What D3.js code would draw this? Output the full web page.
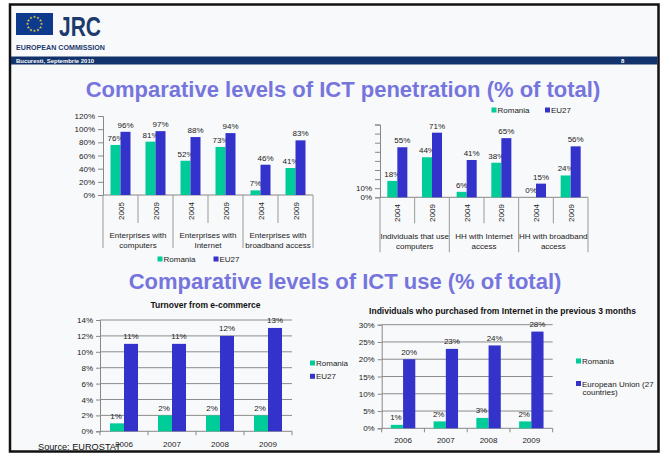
<!DOCTYPE html>
<html><head><meta charset="utf-8">
<script src="https://cdn.jsdelivr.net/npm/d3@7"></script>
<style>html,body{margin:0;padding:0;background:#fff;}svg{display:block;font-family:"Liberation Sans",Arial,sans-serif;}</style>
</head><body><div id="chart"></div>
<script>
// ---------- DATA ----------
const seriesNames = ["Romania", "EU27"];
const colors = ["#00CC99", "#3333CC"];

// Chart 1: enterprises
const c1Years = ["2005", "2009", "2004", "2009", "2004", "2009"];
const c1Groups = [["Enterprises with", "computers"], ["Enterprises with", "Internet"], ["Enterprises with", "broadband access"]];
const c1Romania = [76, 81, 52, 73, 7, 41];
const c1EU27 = [96, 97, 88, 94, 46, 83];
const c1Ticks = [0, 20, 40, 60, 80, 100, 120];

// Chart 2: individuals / households
const c2Years = ["2004", "2009", "2004", "2009", "2004", "2009"];
const c2Groups = [["Individuals that use", "computers"], ["HH with Internet", "access"], ["HH with broadband", "access"]];
const c2Romania = [18, 44, 6, 38, 0, 24];
const c2EU27 = [55, 71, 41, 65, 15, 56];
const c2Ticks = [0, 10, 20, 30, 40, 50, 60, 70, 80];
const c2TickLabels = ["0%", "10%"];

// Chart 3: turnover from e-commerce
const c3Years = ["2006", "2007", "2008", "2009"];
const c3Romania = [1, 2, 2, 2];
const c3EU27 = [11, 11, 12, 13];
const c3Ticks = [0, 2, 4, 6, 8, 10, 12, 14];

// Chart 4: individuals who purchased from Internet
const c4Years = ["2006", "2007", "2008", "2009"];
const c4Romania = [1, 2, 3, 2];
const c4EU27 = [20, 23, 24, 28];
const c4Ticks = [0, 5, 10, 15, 20, 25, 30];
const c4Legend = [["Romania"], ["European Union (27", "countries)"]];

// ---------- SVG ----------
const W = 666, H = 453;
const svg = d3.select("#chart").append("svg").attr("width", W).attr("height", H);
svg.append("rect").attr("width", W).attr("height", H).attr("fill", "#fff");
svg.append("rect").attr("x", 10).attr("y", 4.5).attr("width", 648.5).attr("height", 447)
  .attr("fill", "#f8f9fb").attr("stroke", "#111").attr("stroke-width", 2.5);

// header
svg.append("rect").attr("x", 16).attr("y", 13).attr("width", 37).attr("height", 22).attr("fill", "#0d3a8c");
const stars = d3.range(12).map(i => i * Math.PI / 6);
svg.selectAll("path.star").data(stars).join("path").attr("class", "star")
  .attr("d", d3.symbol(d3.symbolStar, 3))
  .attr("transform", a => `translate(${34.5 + 7 * Math.cos(a)},${24 + 7 * Math.sin(a)})`)
  .attr("fill", "#e8d44a");
svg.append("text").attr("x", 59).attr("y", 36).attr("font-size", 28).attr("font-weight", "bold")
  .attr("fill", "#1d3a6e").attr("textLength", 42).attr("lengthAdjust", "spacingAndGlyphs").text("JRC");
svg.append("text").attr("x", 16).attr("y", 50).attr("font-size", 7).attr("font-weight", "bold")
  .attr("fill", "#1d3a6e").attr("textLength", 89).attr("lengthAdjust", "spacingAndGlyphs").text("EUROPEAN COMMISSION");
svg.append("rect").attr("x", 11).attr("y", 56.5).attr("width", 646.5).attr("height", 8).attr("fill", "#12326b");
svg.append("text").attr("x", 16).attr("y", 63).attr("font-size", 6).attr("font-weight", "bold")
  .attr("fill", "#fff").attr("textLength", 78).attr("lengthAdjust", "spacingAndGlyphs").text("Bucuresti, Septembrie 2010");
svg.append("text").attr("x", 621).attr("y", 63).attr("font-size", 6).attr("font-weight", "bold").attr("fill", "#fff").text("8");

const titleColor = "#7575dd";
svg.append("text").attr("x", 343).attr("y", 97).attr("text-anchor", "middle").attr("font-size", 22)
  .attr("font-weight", "bold").attr("fill", titleColor).text("Comparative levels of ICT penetration (% of total)");
svg.append("text").attr("x", 345).attr("y", 289).attr("text-anchor", "middle").attr("font-size", 22)
  .attr("font-weight", "bold").attr("fill", titleColor).text("Comparative levels of ICT use (% of total)");

const txt = "#222";

function legendRow(items, x0, y, gap) {
  items.forEach((name, i) => {
    const x = x0 + i * gap;
    svg.append("rect").attr("x", x).attr("y", y - 5.5).attr("width", 5).attr("height", 5).attr("fill", colors[i]);
    svg.append("text").attr("x", x + 6).attr("y", y).attr("font-size", 8).attr("fill", txt).text(name);
  });
}

// ---------- penetration charts ----------
function penetrationChart(cfg) {
  const { years, groups, rom, eu, ticks, tickLabels, x0, x1, y0, yTop, yMax, pad, lbl } = cfg;
  const idx = years.map((d, i) => i);
  const x = d3.scaleBand().domain(idx).range([x0, x1]);
  const inner = d3.scaleBand().domain([0, 1]).range([0, x.bandwidth()]).paddingOuter(pad);
  const y = d3.scaleLinear().domain([0, yMax]).range([y0, yTop]);
  const g = svg.append("g");
  const yAxis = d3.axisLeft(y).tickValues(ticks).tickSize(5).tickPadding(3)
    .tickFormat(d => tickLabels ? (tickLabels.includes(d + "%") ? d + "%" : "") : d + "%");
  const ga = g.append("g").attr("transform", `translate(${x0},0)`).call(yAxis);
  ga.select(".domain").attr("stroke", "#888");
  ga.selectAll(".tick line").attr("stroke", "#888");
  ga.selectAll("text").attr("font-size", 8).attr("fill", txt).attr("font-family", "Liberation Sans, Arial, sans-serif");
  g.append("line").attr("x1", x0).attr("x2", x1).attr("y1", y0).attr("y2", y0).attr("stroke", "#888");
  d3.range(idx.length + 1).forEach(i => {
    const xx = x0 + i * x.step();
    const major = i % 2 === 0;
    g.append("line").attr("x1", xx).attr("x2", xx).attr("y1", y0).attr("y2", y0 + (major ? lbl.majorLen : lbl.minorLen))
      .attr("stroke", "#999");
  });
  const series = [rom, eu];
  series.forEach((vals, s) => {
    g.selectAll(null).data(vals).join("rect")
      .attr("x", (d, i) => x(i) + inner(s)).attr("width", inner.bandwidth())
      .attr("y", d => y(d)).attr("height", d => y0 - y(d)).attr("fill", colors[s]);
    g.selectAll(null).data(vals).join("text")
      .attr("x", (d, i) => x(i) + inner(s) + inner.bandwidth() / 2).attr("y", d => y(d) - 4)
      .attr("text-anchor", "middle").attr("font-size", 8).attr("fill", txt).text(d => d + "%");
  });
  g.selectAll(null).data(years).join("text")
    .attr("transform", (d, i) => `translate(${x(i) + x.bandwidth() / 2 + 3},${lbl.yearY}) rotate(-90)`)
    .attr("text-anchor", "middle").attr("font-size", 8).attr("fill", txt).text(d => d);
  groups.forEach((lines, gi) => {
    const cx = x0 + (gi * 2 + 1) * x.step();
    lines.forEach((t, li) => {
      g.append("text").attr("x", cx).attr("y", lbl.groupY + li * 9.5).attr("text-anchor", "middle")
        .attr("font-size", 8).attr("fill", txt).text(t);
    });
  });
}

penetrationChart({ years: c1Years, groups: c1Groups, rom: c1Romania, eu: c1EU27, ticks: c1Ticks, tickLabels: null,
  x0: 103, x1: 313, y0: 195, yTop: 116, yMax: 120, pad: 0.75,
  lbl: { yearY: 211, groupY: 238, majorLen: 53, minorLen: 28 } });
legendRow(seriesNames, 157.5, 262, 56);

penetrationChart({ years: c2Years, groups: c2Groups, rom: c2Romania, eu: c2EU27, ticks: c2Ticks, tickLabels: c2TickLabels,
  x0: 380, x1: 588, y0: 197.3, yTop: 124.5, yMax: 80, pad: 0.73,
  lbl: { yearY: 213, groupY: 239, majorLen: 55, minorLen: 26 } });
legendRow(seriesNames, 491.5, 113, 53.5);

// ---------- use charts ----------
function useChart(cfg) {
  const { years, rom, eu, ticks, x0, x1, y0, yTop, yMax, pad, title, titleX, titleY, legend, legX, legY, legGap, xLabY } = cfg;
  const x = d3.scaleBand().domain(years).range([x0, x1]);
  const inner = d3.scaleBand().domain([0, 1]).range([0, x.bandwidth()]).paddingOuter(pad);
  const y = d3.scaleLinear().domain([0, yMax]).range([y0, yTop]);
  const g = svg.append("g");
  const ga = g.append("g").attr("transform", `translate(${x0},0)`)
    .call(d3.axisLeft(y).tickValues(ticks).tickSize(4).tickPadding(3).tickFormat(d => d + "%"));
  ga.select(".domain").attr("stroke", "#888");
  ga.selectAll(".tick line").attr("stroke", "#888");
  ga.selectAll("text").attr("font-size", 8).attr("fill", txt).attr("font-family", "Liberation Sans, Arial, sans-serif");
  g.selectAll(null).data(ticks.slice(1)).join("line")
    .attr("x1", x0).attr("x2", x1).attr("y1", d => y(d)).attr("y2", d => y(d)).attr("stroke", "#8c8c8c");
  g.append("line").attr("x1", x0).attr("x2", x1).attr("y1", y0).attr("y2", y0).attr("stroke", "#888");
  d3.range(years.length + 1).forEach(i => {
    const xx = x0 + i * x.step();
    g.append("line").attr("x1", xx).attr("x2", xx).attr("y1", y0).attr("y2", y0 + 4).attr("stroke", "#888");
  });
  [rom, eu].forEach((vals, s) => {
    g.selectAll(null).data(vals).join("rect")
      .attr("x", (d, i) => x(years[i]) + inner(s)).attr("width", inner.bandwidth())
      .attr("y", d => y(d)).attr("height", d => y0 - y(d)).attr("fill", colors[s]);
    g.selectAll(null).data(vals).join("text")
      .attr("x", (d, i) => x(years[i]) + inner(s) + inner.bandwidth() / 2 - (s === 0 ? 1 : 0)).attr("y", d => y(d) - 4.5)
      .attr("text-anchor", "middle").attr("font-size", 8).attr("fill", txt).text(d => d + "%");
  });
  g.selectAll(null).data(years).join("text")
    .attr("x", d => x(d) + x.bandwidth() / 2).attr("y", xLabY).attr("text-anchor", "middle")
    .attr("font-size", 8).attr("fill", txt).text(d => d);
  g.append("text").attr("x", titleX).attr("y", titleY).attr("text-anchor", "middle").attr("font-size", 8.5)
    .attr("font-weight", "bold").attr("fill", "#111").text(title);
  legend.forEach((lines, i) => {
    const yy = legY + i * legGap;
    g.append("rect").attr("x", legX).attr("y", yy - 5.5).attr("width", 5).attr("height", 5).attr("fill", colors[i]);
    lines.forEach((t, li) => {
      g.append("text").attr("x", legX + 6 + (li > 0 ? 0.5 : 0)).attr("y", yy + li * 8.5).attr("font-size", 8).attr("fill", txt).text(t);
    });
  });
}

useChart({ years: c3Years, rom: c3Romania, eu: c3EU27, ticks: c3Ticks, x0: 100, x1: 292, y0: 431.3, yTop: 320, yMax: 14,
  pad: 0.714, title: "Turnover from e-commerce", titleX: 205.5, titleY: 308,
  legend: [["Romania"], ["EU27"]], legX: 310, legY: 366, legGap: 13.3, xLabY: 447 });

useChart({ years: c4Years, rom: c4Romania, eu: c4EU27, ticks: c4Ticks, x0: 381.7, x1: 552.7, y0: 428.3, yTop: 324.7, yMax: 30,
  pad: 0.75, title: "Individuals who purchased from Internet in the previous 3 months", titleX: 502.5, titleY: 314,
  legend: c4Legend, legX: 576, legY: 364, legGap: 22.5, xLabY: 443 });

svg.append("text").attr("x", 38).attr("y", 450).attr("font-size", 9.2).attr("fill", "#111").text("Source: EUROSTAT");
</script></body></html>
